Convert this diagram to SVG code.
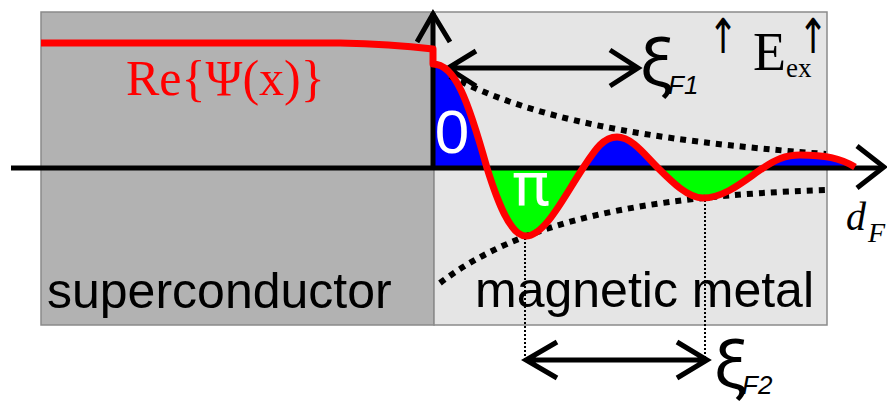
<svg xmlns="http://www.w3.org/2000/svg" width="887" height="401" viewBox="0 0 887 401">
<style>
.region{stroke:#8a8a8a;stroke-width:1.5}
.axis{stroke:#000;stroke-width:5;fill:none}
.chev{stroke:#000;stroke-width:5;fill:none;stroke-linecap:butt;stroke-linejoin:miter}
.env{stroke:#000;stroke-width:6;fill:none;stroke-dasharray:6 6}
.guide{stroke:#000;stroke-width:2;fill:none;stroke-dasharray:2 2}
.psi{stroke:#ff0000;stroke-width:7;fill:none;stroke-linejoin:round}
.sans{font-family:"Liberation Sans",Arial,sans-serif}
.xi{font-family:Roboto,"Noto Sans",sans-serif}
.serif{font-family:"Liberation Serif","Times New Roman",serif}
.up{font-family:"DejaVu Sans",sans-serif;font-size:48px}
</style>
<defs>
<clipPath id="above"><rect x="0" y="0" width="887" height="168"/></clipPath>
<clipPath id="below"><rect x="0" y="168" width="887" height="233"/></clipPath>
</defs>

<g id="superconductor">
<rect class="region" x="41" y="12" width="393" height="313" fill="#b2b2b2"/>
<text class="sans" x="47" y="308" font-size="50" fill="#000">superconductor</text>
</g>

<g id="magnetic-metal">
<rect class="region" x="434" y="12" width="393" height="313" fill="#e5e5e5"/>
<text class="sans" x="475" y="307" font-size="50" fill="#000">magnetic metal</text>
</g>

<g id="lobes">
<path clip-path="url(#above)" fill="#0000ff" d="M434,64 C455,64 468,100 487,168 C497,200 510,236 526,236 C545,236 565,195 583,168 C595,150 603,137 617,137 C632,137 645,155 658,168 C672,182 688,198 703,198 C725,198 745,180 763,168 C775,160 785,155 800,155 C825,155 840,158 855,167 L855,168 L434,168 Z"/>
<path clip-path="url(#below)" fill="#00ff00" d="M434,64 C455,64 468,100 487,168 C497,200 510,236 526,236 C545,236 565,195 583,168 C595,150 603,137 617,137 C632,137 645,155 658,168 C672,182 688,198 703,198 C725,198 745,180 763,168 C775,160 785,155 800,155 C825,155 840,158 855,167 L855,168 L434,168 Z"/>
<text class="sans" x="452" y="153" font-size="62" fill="#fff" text-anchor="middle">0</text>
<text class="xi" x="531" y="205" font-size="62" fill="#fff" text-anchor="middle">π</text>
</g>

<g id="connectors">
<path class="env" d="M450,76 C530,118 640,140 826,154"/>
<path class="env" d="M440,283 C520,222 640,196 826,190"/>
<path class="guide" d="M525,238 V360 M705,200 V358"/>
<path class="axis" d="M11,168 H883"/>
<path class="chev" d="M857,146 L884,167 L857,188"/>
<path class="axis" d="M433,168 V13"/>
<path class="chev" d="M417,42 L433,14 L450,42"/>
<path class="chev" d="M448,68 H638 M476,51 L448,68 L476,86 M610,50 L638,68 L610,86"/>
<path class="chev" d="M526,360 H707 M557,342 L526,360 L557,378 M677,342 L707,360 L677,378"/>
</g>

<g id="wavefunction">
<path class="psi" d="M41,43 L340,43 Q390,44 433,49 L433,64 C455,64 468,100 487,168 C497,200 510,236 526,236 C545,236 565,195 583,168 C595,150 603,137 617,137 C632,137 645,155 658,168 C672,182 688,198 703,198 C725,198 745,180 763,168 C775,160 785,155 800,155 C825,155 840,158 855,167"/>
<text class="serif" x="126" y="95" font-size="50" fill="#ff0000">Re{Ψ(x)}</text>
</g>

<g id="labels">
<text class="xi" x="640" y="86" font-size="68" fill="#000">ξ</text>
<text class="sans" x="668" y="94" font-size="26" font-style="italic" fill="#000">F1</text>
<text class="xi" x="714" y="388" font-size="68" fill="#000">ξ</text>
<text class="sans" x="742" y="394" font-size="26" font-style="italic" fill="#000">F2</text>
<text class="up" transform="translate(723,53) scale(0.75,1)" text-anchor="middle">↑</text>
<text class="serif" x="753" y="70" font-size="54" fill="#000">E</text>
<text class="serif" x="786" y="77" font-size="27" fill="#000">ex</text>
<text class="up" transform="translate(813,53) scale(0.75,1)" text-anchor="middle">↑</text>
<text class="serif" x="846" y="230" font-size="40" font-style="italic" fill="#000">d</text>
<text class="serif" x="868" y="242" font-size="28" font-style="italic" fill="#000">F</text>
</g>
</svg>
